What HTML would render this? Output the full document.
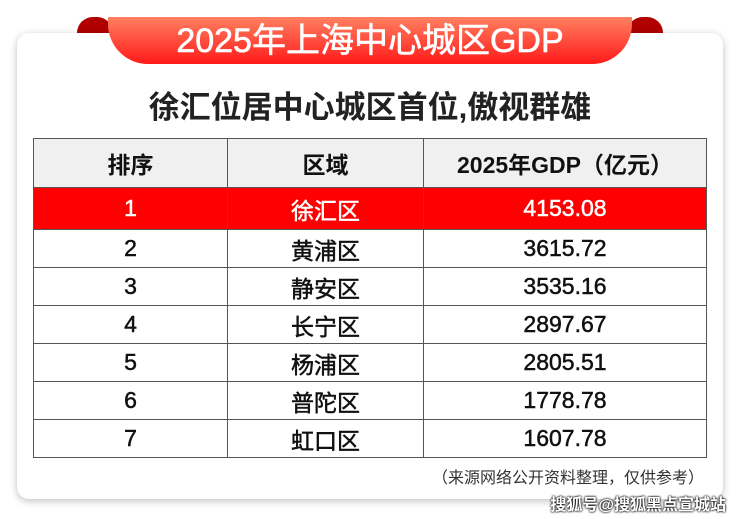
<!DOCTYPE html><html><head><meta charset="utf-8"><style>
body{margin:0;width:740px;height:519px;background:#fff;position:relative;overflow:hidden;font-family:"Liberation Sans","Noto Sans CJK SC",sans-serif}
.card{position:absolute;left:17px;top:33px;width:706px;height:466px;background:#fff;border-radius:12px;box-shadow:0 2px 8px rgba(0,0,0,.25)}
.rib{position:absolute;left:108px;top:17px;width:524px;height:47px;background:linear-gradient(#ff8060,#ff1a1a);border-radius:0 0 40px 40px;color:#fff;font-size:34px;font-weight:normal;text-align:center;line-height:48px;-webkit-text-stroke:0.6px #fff}
.fold{position:absolute;top:17px;width:36px;height:30px;background:#b00000;border-radius:16px 16px 0 0}
.sub{position:absolute;left:0;width:740px;top:82px;text-align:center;font-size:31px;font-weight:bold;color:#222}
table{position:absolute;left:33px;top:138px;width:674px;border-collapse:collapse;font-size:23px;color:#111}
td{border:1px solid #555;text-align:center;height:37px;padding:0;-webkit-text-stroke:0.5px #111}
tr.h td{background:#f0f0f0;height:48px;font-weight:bold;-webkit-text-stroke:0}
tr.r td{background:#ff0000;color:#fff;height:41px;-webkit-text-stroke:0.5px #fff}
.note{position:absolute;right:36px;top:464px;font-size:16px;color:#333}
.wm{position:absolute;right:14px;top:491px;font-size:16px;color:#fff;font-weight:bold;text-shadow:0 0 2px #000,0 0 2px #000}
</style></head><body>
<div class="fold" style="left:77px"></div><div class="fold" style="left:627px"></div>
<div class="card"></div>
<div class="rib">2025年上海中心城区GDP</div>
<div class="sub">徐汇位居中心城区首位,傲视群雄</div>
<table>
<tr class="h"><td style="width:193px">排序</td><td style="width:195px">区域</td><td>2025年GDP（亿元）</td></tr>
<tr class="r"><td>1</td><td>徐汇区</td><td>4153.08</td></tr>
<tr><td>2</td><td>黄浦区</td><td>3615.72</td></tr>
<tr><td>3</td><td>静安区</td><td>3535.16</td></tr>
<tr><td>4</td><td>长宁区</td><td>2897.67</td></tr>
<tr><td>5</td><td>杨浦区</td><td>2805.51</td></tr>
<tr><td>6</td><td>普陀区</td><td>1778.78</td></tr>
<tr><td>7</td><td>虹口区</td><td>1607.78</td></tr>
</table>
<div class="note">（来源网络公开资料整理，仅供参考）</div>
<div class="wm">搜狐号@搜狐黑点宣城站</div>
</body></html>
